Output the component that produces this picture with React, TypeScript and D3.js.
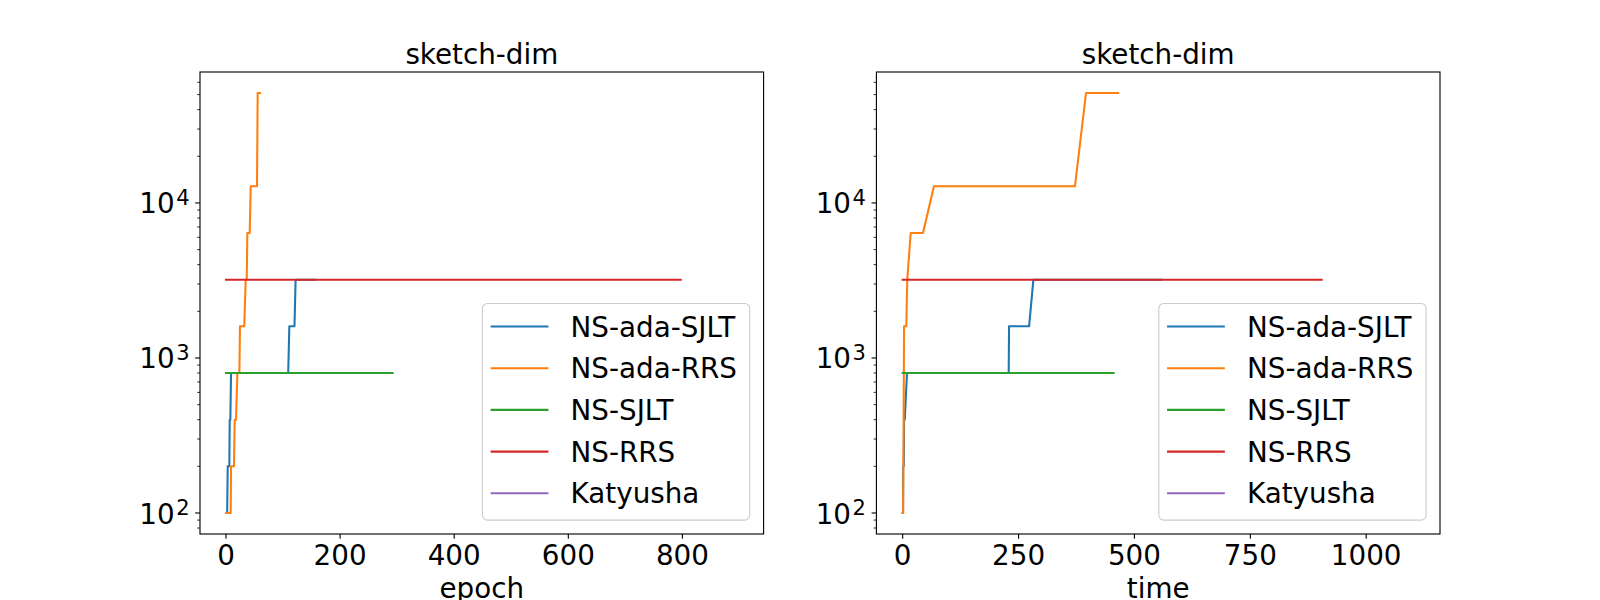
import React from 'react';
import * as d3 from 'd3';

// ---------- data ----------
const seriesNames = ['NS-ada-SJLT', 'NS-ada-RRS', 'NS-SJLT', 'NS-RRS', 'Katyusha'];
const seriesColors = ['#1f77b4', '#ff7f0e', '#2ca02c', '#d62728', '#9467bd'];

// left panel: x = epoch
const adaSjltEpochX = [0, 2, 3, 5.8, 6.5, 7.6, 8.8, 109, 111, 120, 122, 156];
const adaSjltEpochY = [100, 100, 200, 200, 400, 400, 800, 800, 1600, 1600, 3200, 3200];
const adaRrsEpochX = [0, 8.2, 8.8, 14, 15.2, 17.5, 19.9, 23.4, 24.5, 32, 34.5, 36.3, 37.4, 41.5, 43.3, 54.3, 55.5, 59.5];
const adaRrsEpochY = [100, 100, 200, 200, 400, 400, 800, 800, 1600, 1600, 3200, 3200, 6400, 6400, 12800, 12800, 51200, 51200];
const sjltEpochX = [0, 292];
const sjltEpochY = [800, 800];
const rrsEpochX = [0, 797];
const rrsEpochY = [3200, 3200];
const katyushaEpochX: number[] = [];
const katyushaEpochY: number[] = [];

// right panel: x = time
const adaSjltTimeX = [0, 0.8, 1, 2.5, 3, 4.5, 9.3, 228.7, 229.5, 272.7, 282, 558];
const adaSjltTimeY = [100, 100, 200, 200, 400, 400, 800, 800, 1600, 1600, 3200, 3200];
const adaRrsTimeX = [0, 1, 1.5, 2, 2.5, 3, 7.8, 9.9, 17.3, 43.8, 67.5, 371.7, 395.5, 465];
const adaRrsTimeY = [100, 100, 200, 400, 800, 1600, 1600, 3200, 6400, 6400, 12800, 12800, 51200, 51200];
const sjltTimeX = [0, 455];
const sjltTimeY = [800, 800];
const rrsTimeX = [0, 904];
const rrsTimeY = [3200, 3200];
const katyushaTimeX: number[] = [];
const katyushaTimeY: number[] = [];

const epochTicks = [0, 200, 400, 600, 800];
const timeTicks = [0, 250, 500, 750, 1000];
const epochDomain = [-45.6, 942.3];
const timeDomain = [-56.7, 1159.2];
const panelTitle = 'sketch-dim';

// ---------- layout ----------
const W = 1600;
const H = 600;
const TOP = 72;
const BOTTOM = 534;
const FS = 27.78;
const FONT = '"DejaVu Sans", sans-serif';

const zip = (xs: number[], ys: number[]) => xs.map((x, i) => [x, ys[i]] as [number, number]);

const panels = [
  {
    id: 'p0',
    x0: 200,
    x1: 763.6,
    domain: epochDomain,
    ticks: epochTicks,
    xlabel: 'epoch',
    series: [
      zip(adaSjltEpochX, adaSjltEpochY),
      zip(adaRrsEpochX, adaRrsEpochY),
      zip(sjltEpochX, sjltEpochY),
      zip(rrsEpochX, rrsEpochY),
      zip(katyushaEpochX, katyushaEpochY),
    ],
  },
  {
    id: 'p1',
    x0: 876.4,
    x1: 1440,
    domain: timeDomain,
    ticks: timeTicks,
    xlabel: 'time',
    series: [
      zip(adaSjltTimeX, adaSjltTimeY),
      zip(adaRrsTimeX, adaRrsTimeY),
      zip(sjltTimeX, sjltTimeY),
      zip(rrsTimeX, rrsTimeY),
      zip(katyushaTimeX, katyushaTimeY),
    ],
  },
];

const allY = [...adaRrsEpochY, ...adaSjltEpochY, ...sjltEpochY, ...rrsEpochY, ...adaRrsTimeY];
const lMin = Math.log10(d3.min(allY) as number);
const lMax = Math.log10(d3.max(allY) as number);
const lPad = 0.05 * (lMax - lMin);
const yDomain = [Math.pow(10, lMin - lPad), Math.pow(10, lMax + lPad)];

function Panel({ p }: { p: (typeof panels)[number] }) {
  const x = d3.scaleLinear().domain(p.domain).range([p.x0, p.x1]);
  const y = d3.scaleLog().domain(yDomain).range([BOTTOM, TOP]);
  const line = d3
    .line<[number, number]>()
    .x((d) => x(d[0]))
    .y((d) => y(d[1]));
  const yTicks = y.ticks().filter((v) => v >= yDomain[0] && v <= yDomain[1]);
  const isMajor = (v: number) => Math.abs(Math.log10(v) - Math.round(Math.log10(v))) < 1e-9;

  const legW = 267.3;
  const legH = 216.6;
  const legR = p.x1 - 13.9;
  const legB = BOTTOM - 13.9;
  const legL = legR - legW;
  const legT = legB - legH;

  return (
    <g>
      <defs>
        <clipPath id={`clip-${p.id}`}>
          <rect x={p.x0} y={TOP} width={p.x1 - p.x0} height={BOTTOM - TOP} />
        </clipPath>
      </defs>
      <g clipPath={`url(#clip-${p.id})`}>
        {p.series.map((s, i) =>
          s.length ? (
            <path
              key={i}
              d={line(s) || ''}
              fill="none"
              stroke={seriesColors[i]}
              strokeWidth={2.08}
              strokeLinecap="square"
              strokeLinejoin="round"
            />
          ) : null
        )}
      </g>
      {/* spines */}
      <rect x={p.x0} y={TOP} width={p.x1 - p.x0} height={BOTTOM - TOP} fill="none" stroke="#000" strokeWidth={1.11} />
      {/* x ticks */}
      {p.ticks.map((t) => (
        <g key={t}>
          <line x1={x(t)} x2={x(t)} y1={BOTTOM} y2={BOTTOM + 4.86} stroke="#000" strokeWidth={1.11} />
          <text x={x(t)} y={565} textAnchor="middle" fontSize={FS} fontFamily={FONT} fill="#000">
            {t}
          </text>
        </g>
      ))}
      {/* y ticks */}
      {yTicks.map((v) => {
        const major = isMajor(v);
        const yy = y(v);
        return (
          <g key={v}>
            <line
              x1={p.x0}
              x2={p.x0 - (major ? 4.86 : 2.78)}
              y1={yy}
              y2={yy}
              stroke="#000"
              strokeWidth={major ? 1.11 : 0.83}
            />
            {major ? (
              <text x={p.x0 - 10.5} y={yy + 10.5} textAnchor="end" fontFamily={FONT} fill="#000">
                <tspan fontSize={FS}>10</tspan>
                <tspan fontSize={21} dx={1.5} dy={-8.5}>
                  {Math.round(Math.log10(v))}
                </tspan>
              </text>
            ) : null}
          </g>
        );
      })}
      {/* title and label */}
      <text x={(p.x0 + p.x1) / 2} y={63.7} textAnchor="middle" fontSize={FS} fontFamily={FONT} fill="#000">
        {panelTitle}
      </text>
      <text x={(p.x0 + p.x1) / 2} y={598} textAnchor="middle" fontSize={FS} fontFamily={FONT} fill="#000">
        {p.xlabel}
      </text>
      {/* legend */}
      <rect
        x={legL}
        y={legT}
        width={legW}
        height={legH}
        rx={5}
        ry={5}
        fill="#fff"
        fillOpacity={0.8}
        stroke="#cccccc"
        strokeWidth={1.11}
      />
      {seriesNames.map((name, i) => {
        const ry = legT + 23 + i * 41.7;
        return (
          <g key={name}>
            <line
              x1={legL + 9.3}
              x2={legL + 65}
              y1={ry}
              y2={ry}
              stroke={seriesColors[i]}
              strokeWidth={2.08}
              strokeLinecap="square"
            />
            <text x={legL + 88.2} y={ry + 10} fontSize={FS} fontFamily={FONT} fill="#000">
              {name}
            </text>
          </g>
        );
      })}
    </g>
  );
}

export default function App() {
  return (
    <div style={{ position: 'fixed', left: 0, top: 0, width: W, height: H, background: '#fff' }}>
      <svg width={W} height={H} viewBox={`0 0 ${W} ${H}`} style={{ display: 'block' }}>
        <rect x={0} y={0} width={W} height={H} fill="#fff" />
        {panels.map((p) => (
          <Panel key={p.id} p={p} />
        ))}
      </svg>
    </div>
  );
}
